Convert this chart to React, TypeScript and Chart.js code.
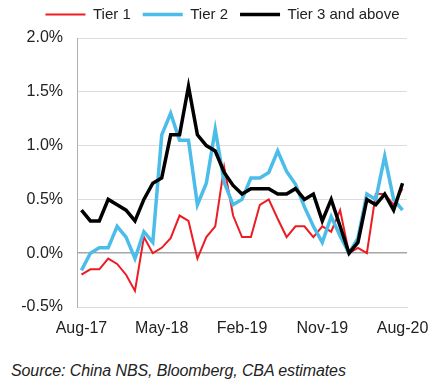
import React, { useEffect, useRef } from "react";
import { Chart, registerables } from "chart.js";

Chart.register(...registerables);

const months = [
  "Aug-17", "Sep-17", "Oct-17", "Nov-17", "Dec-17", "Jan-18", "Feb-18", "Mar-18", "Apr-18",
  "May-18", "Jun-18", "Jul-18", "Aug-18", "Sep-18", "Oct-18", "Nov-18", "Dec-18", "Jan-19",
  "Feb-19", "Mar-19", "Apr-19", "May-19", "Jun-19", "Jul-19", "Aug-19", "Sep-19", "Oct-19",
  "Nov-19", "Dec-19", "Jan-20", "Feb-20", "Mar-20", "Apr-20", "May-20", "Jun-20", "Jul-20",
  "Aug-20",
];

const tier1 = [
  -0.2, -0.15, -0.15, -0.05, -0.1, -0.2, -0.35, 0.15, 0.0, 0.05, 0.14, 0.35, 0.3, -0.05, 0.15,
  0.25, 0.8, 0.35, 0.15, 0.15, 0.45, 0.5, 0.32, 0.15, 0.25, 0.25, 0.15, 0.25, 0.2, 0.4, 0.0,
  0.05, 0.0, 0.55, 0.55, 0.45, 0.6,
];

const tier2 = [
  -0.16, 0.0, 0.05, 0.05, 0.25, 0.15, -0.05, 0.2, 0.1, 1.1, 1.3, 1.05, 1.05, 0.45, 0.65, 1.15,
  0.66, 0.45, 0.5, 0.7, 0.7, 0.75, 0.95, 0.76, 0.64, 0.43, 0.25, 0.1, 0.34, 0.16, 0.0, 0.14,
  0.55, 0.5, 0.9, 0.5, 0.4,
];

const tier3 = [
  0.4, 0.3, 0.3, 0.5, 0.45, 0.4, 0.3, 0.5, 0.65, 0.7, 1.1, 1.1, 1.55, 1.1, 1.0, 0.95, 0.75,
  0.63, 0.55, 0.6, 0.6, 0.6, 0.55, 0.55, 0.6, 0.5, 0.55, 0.3, 0.5, 0.25, 0.0, 0.1, 0.5, 0.45,
  0.55, 0.4, 0.65,
];

const seriesNames = ["Tier 1", "Tier 2", "Tier 3 and above"];
const sourceText = "Source: China NBS, Bloomberg, CBA estimates";

const FONT = "'Liberation Sans', Arial, Helvetica, sans-serif";
const LEGEND_HEIGHT = 43;
const LEGEND_SHIFT = 19;

const legendPlacementPlugin = {
  id: "legendPlacement",
  beforeLayout(chart: any) {
    const lg = chart.legend;
    if (lg && !lg._fixedHeight) {
      const orig = lg.fit.bind(lg);
      lg.fit = function () {
        orig();
        this.height = LEGEND_HEIGHT;
      };
      lg._fixedHeight = true;
    }
  },
  afterLayout(chart: any) {
    const lg = chart.legend;
    if (lg) {
      lg.left += LEGEND_SHIFT;
      lg.right += LEGEND_SHIFT;
    }
  },
};

export default function App() {
  const canvasRef = useRef<HTMLCanvasElement | null>(null);

  useEffect(() => {
    document.body.style.margin = "0";
    const canvas = canvasRef.current;
    if (!canvas) return;
    const chart = new Chart(canvas, {
      type: "line",
      data: {
        labels: months,
        datasets: [
          {
            label: seriesNames[0],
            data: tier1,
            borderColor: "#ec1c24",
            backgroundColor: "#ec1c24",
            borderWidth: 2,
            pointRadius: 0,
            tension: 0,
            order: 2,
          },
          {
            label: seriesNames[1],
            data: tier2,
            borderColor: "#4cbde9",
            backgroundColor: "#4cbde9",
            borderWidth: 3.5,
            pointRadius: 0,
            tension: 0,
            order: 1,
          },
          {
            label: seriesNames[2],
            data: tier3,
            borderColor: "#000000",
            backgroundColor: "#000000",
            borderWidth: 3.5,
            pointRadius: 0,
            tension: 0,
            order: 0,
          },
        ],
      },
      plugins: [legendPlacementPlugin],
      options: {
        animation: false,
        responsive: false,
        maintainAspectRatio: false,
        layout: { padding: { top: -5, right: 38, left: 0, bottom: 0 } },
        plugins: {
          tooltip: { enabled: false },
          legend: {
            position: "top",
            labels: {
              usePointStyle: true,
              pointStyle: "line",
              pointStyleWidth: 40,
              boxWidth: 40,
              padding: 12,
              color: "#222",
              font: { family: FONT, size: 15 },
              sort: (a: any, b: any) => a.datasetIndex - b.datasetIndex,
            },
          },
        },
        scales: {
          x: {
            type: "category",
            offset: true,
            grid: { display: false, drawTicks: false },
            border: { display: true, color: "#d9d9d9", width: 1 },
            ticks: {
              autoSkip: false,
              maxRotation: 0,
              padding: 12,
              color: "#222",
              font: { family: FONT, size: 16 },
              callback: (_v: any, i: number) => (i % 9 === 0 ? months[i] : ""),
            },
            afterFit: (s: any) => {
              s.height = 38;
            },
          },
          y: {
            min: -0.5,
            max: 2.0,
            grid: {
              drawTicks: false,
              color: (ctx: any) => (ctx.tick && ctx.tick.value === 0 ? "#a6a6a6" : "#dcdcdc"),
              lineWidth: (ctx: any) => (ctx.tick && ctx.tick.value === 0 ? 1.5 : 1),
            },
            border: { display: true, color: "#b0b0b0", width: 1 },
            ticks: {
              stepSize: 0.5,
              padding: 14,
              color: "#222",
              font: { family: FONT, size: 16 },
              callback: (v: any) => Number(v).toFixed(1) + "%",
            },
            afterFit: (s: any) => {
              s.width = 77;
            },
          },
        },
      },
    });
    return () => chart.destroy();
  }, []);

  return (
    <div style={{ position: "relative", width: 445, height: 385, background: "#fff" }}>
      <canvas
        ref={canvasRef}
        width={445}
        height={345}
        style={{ position: "absolute", left: 0, top: 0, width: 445, height: 345 }}
      />
      <div
        style={{
          position: "absolute",
          left: 11,
          top: 362,
          fontFamily: FONT,
          fontStyle: "italic",
          fontSize: 16,
          color: "#222",
          whiteSpace: "nowrap",
          letterSpacing: "-0.1px",
        }}
      >
        {sourceText}
      </div>
    </div>
  );
}
